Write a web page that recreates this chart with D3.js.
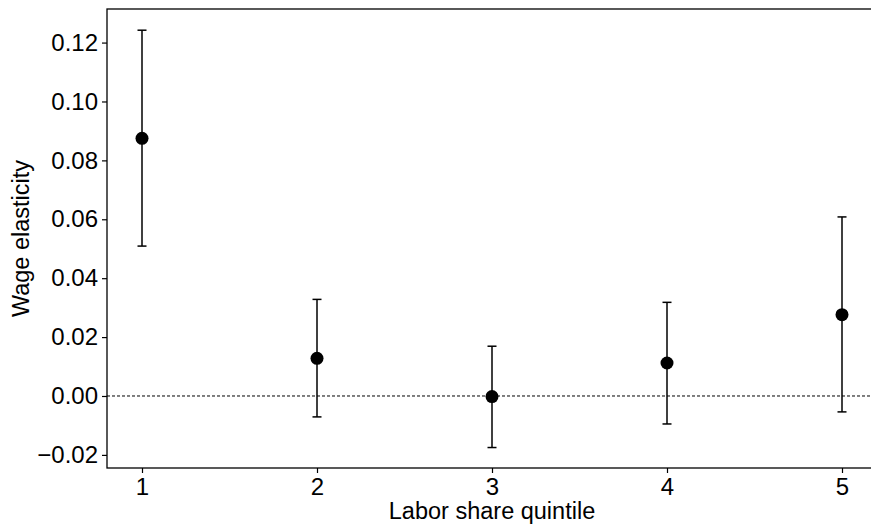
<!DOCTYPE html>
<html lang="en">
<head>
    <meta charset="UTF-8">
    <title>Wage elasticity by labor share quintile</title>
    <script src="https://d3js.org/d3.v7.min.js"></script>
    <style>
        body { margin: 0; background: #fff; }
        svg text { font-family: "Liberation Sans", Arial, Helvetica, sans-serif; fill: #000; }
    </style>
</head>
<body>
    <svg id="chart" width="871" height="526"></svg>
    <script>
        // values
        var quintiles = [1, 2, 3, 4, 5];
        var estimates = [0.0875, 0.0128, -0.0002, 0.0112, 0.0276];
        var upper = [0.1242, 0.0328, 0.0169, 0.0318, 0.0608];
        var lower = [0.0509, -0.0071, -0.0175, -0.0095, -0.0054];
        var yTicks = [-0.02, 0.00, 0.02, 0.04, 0.06, 0.08, 0.10, 0.12];

        var svg = d3.select("#chart");
        // plot area (right spine falls just outside the window, as in the original)
        var plotLeft = 107, plotTop = 9, plotRight = 877, plotBottom = 468;

        var x = d3.scaleLinear().domain([0.8, 5.2]).range([plotLeft, plotRight]);
        var y = d3.scaleLinear().domain([-0.02445, 0.1314]).range([plotBottom, plotTop]);

        // zero reference line
        svg.append("line")
            .attr("x1", plotLeft).attr("x2", plotRight)
            .attr("y1", y(0)).attr("y2", y(0))
            .attr("stroke", "#000")
            .attr("stroke-width", 1)
            .attr("stroke-dasharray", "3,2");

        // axes
        var yAxis = d3.axisLeft(y)
            .tickValues(yTicks)
            .tickSize(5)
            .tickPadding(4)
            .tickFormat(function (d) { return d3.format(".2f")(d).replace("-", "\u2212"); });
        var gy = svg.append("g").attr("transform", "translate(" + plotLeft + ",0)").call(yAxis);

        var xAxis = d3.axisBottom(x)
            .tickValues(quintiles)
            .tickSize(5)
            .tickPadding(5)
            .tickFormat(d3.format("d"));
        var gx = svg.append("g").attr("transform", "translate(0," + plotBottom + ")").call(xAxis);

        [gx, gy].forEach(function (g) {
            g.select(".domain").remove();
            g.selectAll(".tick line").attr("stroke", "#000").attr("stroke-width", 1.2);
            g.selectAll(".tick text").style("font-size", "24px");
        });

        // frame (left, bottom, top, right)
        svg.append("rect")
            .attr("x", plotLeft).attr("y", plotTop)
            .attr("width", plotRight - plotLeft).attr("height", plotBottom - plotTop)
            .attr("fill", "none")
            .attr("stroke", "#000")
            .attr("stroke-width", 1.3);

        // error bars
        var bars = svg.append("g").selectAll("g")
            .data(quintiles)
            .enter()
            .append("g");

        bars.append("line")
            .attr("x1", function (d) { return x(d); })
            .attr("x2", function (d) { return x(d); })
            .attr("y1", function (d, i) { return y(lower[i]); })
            .attr("y2", function (d, i) { return y(upper[i]); })
            .attr("stroke", "#000").attr("stroke-width", 1.5);

        [upper, lower].forEach(function (arr) {
            bars.append("line")
                .attr("x1", function (d) { return x(d) - 4.5; })
                .attr("x2", function (d) { return x(d) + 4.5; })
                .attr("y1", function (d, i) { return y(arr[i]); })
                .attr("y2", function (d, i) { return y(arr[i]); })
                .attr("stroke", "#000").attr("stroke-width", 1.5);
        });

        bars.append("circle")
            .attr("cx", function (d) { return x(d); })
            .attr("cy", function (d, i) { return y(estimates[i]); })
            .attr("r", 6.5)
            .attr("fill", "#000");

        // axis labels
        svg.append("text")
            .attr("x", x(3))
            .attr("y", 519)
            .attr("text-anchor", "middle")
            .style("font-size", "23.5px")
            .text("Labor share quintile");

        svg.append("text")
            .attr("transform", "translate(29," + ((plotTop + plotBottom) / 2) + ") rotate(-90)")
            .attr("text-anchor", "middle")
            .style("font-size", "23.5px")
            .text("Wage elasticity");
    </script>
</body>
</html>
